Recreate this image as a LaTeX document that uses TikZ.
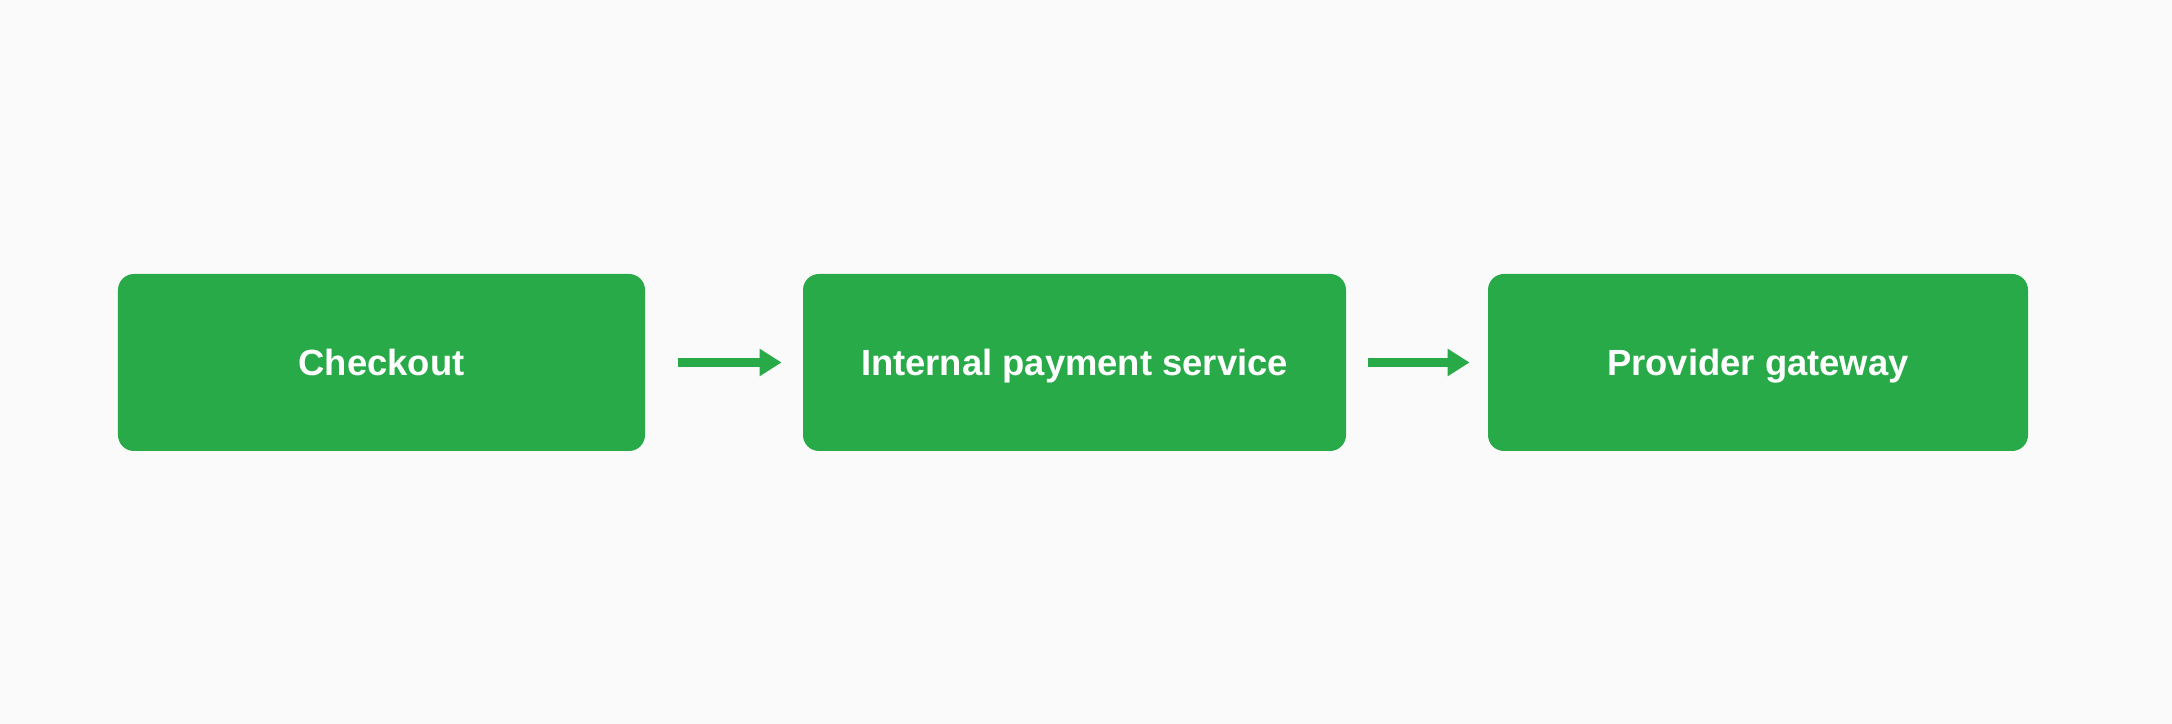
\documentclass[tikz,border=0pt]{standalone}
\usepackage{fontspec}
\setmainfont{Liberation Sans}
\usetikzlibrary{arrows.meta}
\definecolor{boxgreen}{RGB}{40,170,72}
\definecolor{bgcol}{RGB}{250,250,250}
\begin{document}
\begin{tikzpicture}[x=0.5bp,y=0.5bp,
  stepbox/.style={fill=boxgreen, rounded corners=8bp, minimum height=88.5bp, inner sep=0pt,
    text=white, font=\fontsize{18.2bp}{22bp}\selectfont\bfseries, text height=13bp, text depth=0pt},
  flow/.style={draw=boxgreen, line width=4.2bp, -{Triangle[length=11bp,width=13bp]}}]
\fill[bgcol] (0,0) rectangle (2172,724);
\useasboundingbox (0,0) rectangle (2172,724);
\node[stepbox, minimum width=263.5bp] (b1) at (381.5,361.5) {Checkout};
\node[stepbox, minimum width=271.5bp] (b2) at (1074.5,361.5) {Internal payment service};
\node[stepbox, minimum width=270bp] (b3) at (1758,361.5) {Provider gateway};
\draw[flow, shorten <=16.5bp, shorten >=10.5bp] (b1.east) -- (b2.west);
\draw[flow, shorten <=11bp, shorten >=9bp] (b2.east) -- (b3.west);
\end{tikzpicture}
\end{document}
